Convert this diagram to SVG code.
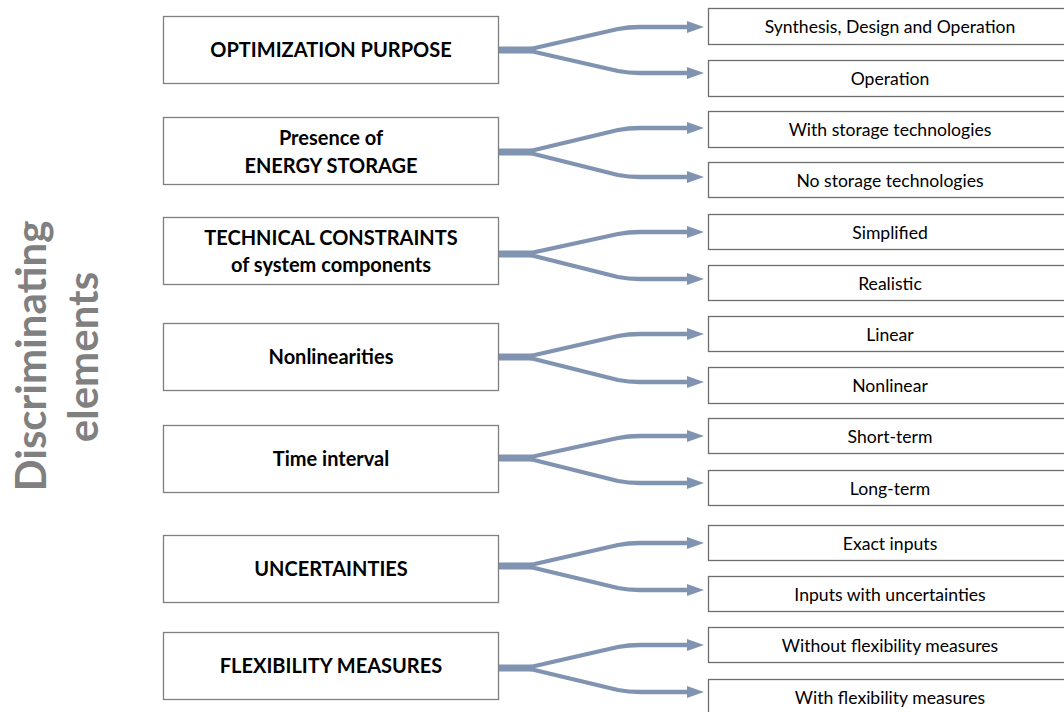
<svg xmlns="http://www.w3.org/2000/svg" width="1064" height="712" viewBox="0 0 1064 712">
<defs>
<marker id="arr" markerUnits="userSpaceOnUse" markerWidth="17" markerHeight="12" viewBox="0 0 17 12" refX="1" refY="6" orient="auto">
<path d="M0,0 L17,6 L0,12 z" fill="#8094b2"/>
</marker>
</defs>
<style>
.lb{fill:#fff;stroke:#7f7f7f;stroke-width:1.3}
.rb{fill:#fff;stroke:#6e6e6e;stroke-width:1.3}
.lt{font-family:Lato,"Liberation Sans",sans-serif;font-weight:bold;font-size:20px;fill:#000;text-anchor:middle}
.rt{font-family:Lato,"Liberation Sans",sans-serif;font-size:17.6px;fill:#000;text-anchor:middle}
.side{font-family:Lato,"Liberation Sans",sans-serif;font-weight:bold;font-size:42px;fill:#808080;text-anchor:middle}
.trunk{fill:none;stroke:#8094b2;stroke-width:7}
.br{fill:none;stroke:#8094b2;stroke-width:4.3;stroke-linejoin:round;marker-end:url(#arr)}
</style>
<rect width="1064" height="712" fill="#fff"/>
<g id="side-label">
<text class="side" transform="translate(46,356) rotate(-90)">Discriminating</text>
<text class="side" transform="translate(98,357) rotate(-90)">elements</text>
</g>
<g id="connectors">
<path class="trunk" d="M498,50 H532"/>
<path class="br" d="M526,50 L618,29 Q628,27 640,27 H688"/>
<path class="br" d="M526,50 L618,71 Q628,73 640,73 H688"/>
<path class="trunk" d="M498,152 H532"/>
<path class="br" d="M526,152 L618,130 Q628,128 640,128 H688"/>
<path class="br" d="M526,152 L618,175 Q628,177 640,177 H688"/>
<path class="trunk" d="M498,254 H532"/>
<path class="br" d="M526,254 L618,234 Q628,232 640,232 H688"/>
<path class="br" d="M526,254 L618,277 Q628,279 640,279 H688"/>
<path class="trunk" d="M498,357 H532"/>
<path class="br" d="M526,357 L618,336 Q628,334 640,334 H688"/>
<path class="br" d="M526,357 L618,380 Q628,382 640,382 H688"/>
<path class="trunk" d="M498,458 H532"/>
<path class="br" d="M526,458 L618,438 Q628,436 640,436 H688"/>
<path class="br" d="M526,458 L618,481 Q628,483 640,483 H688"/>
<path class="trunk" d="M498,566 H532"/>
<path class="br" d="M526,566 L618,545 Q628,543 640,543 H688"/>
<path class="br" d="M526,566 L618,588 Q628,590 640,590 H688"/>
<path class="trunk" d="M498,668 H532"/>
<path class="br" d="M526,668 L618,647 Q628,645 640,645 H688"/>
<path class="br" d="M526,668 L618,690 Q628,692 640,692 H688"/>
</g>
<g id="n-purpose"><rect class="lb" x="163.5" y="16.5" width="335" height="67"/><text class="lt" x="331" y="57">OPTIMIZATION PURPOSE</text></g>
<g id="n-storage"><rect class="lb" x="163.5" y="117.5" width="335" height="67"/><text class="lt" x="331" y="145">Presence of</text><text class="lt" x="331" y="173">ENERGY STORAGE</text></g>
<g id="n-technical"><rect class="lb" x="163.5" y="217.5" width="335" height="67"/><text class="lt" x="331" y="245">TECHNICAL CONSTRAINTS</text><text class="lt" x="331" y="272">of system components</text></g>
<g id="n-nonlin"><rect class="lb" x="163.5" y="323.5" width="335" height="67"/><text class="lt" x="331" y="364">Nonlinearities</text></g>
<g id="n-time"><rect class="lb" x="163.5" y="425.5" width="335" height="67"/><text class="lt" x="331" y="466">Time interval</text></g>
<g id="n-uncert"><rect class="lb" x="163.5" y="535.5" width="335" height="67"/><text class="lt" x="331" y="576">UNCERTAINTIES</text></g>
<g id="n-flex"><rect class="lb" x="163.5" y="632.5" width="335" height="67"/><text class="lt" x="331" y="673">FLEXIBILITY MEASURES</text></g>
<g id="r-sdo"><rect class="rb" x="708.5" y="8.5" width="364" height="36"/><text class="rt" x="890" y="33">Synthesis, Design and Operation</text></g>
<g id="r-op"><rect class="rb" x="708.5" y="60.5" width="364" height="36"/><text class="rt" x="890" y="85">Operation</text></g>
<g id="r-with-st"><rect class="rb" x="708.5" y="111.5" width="364" height="36"/><text class="rt" x="890" y="136">With storage technologies</text></g>
<g id="r-no-st"><rect class="rb" x="708.5" y="162.5" width="364" height="35"/><text class="rt" x="890" y="187">No storage technologies</text></g>
<g id="r-simp"><rect class="rb" x="708.5" y="214.5" width="364" height="35"/><text class="rt" x="890" y="239">Simplified</text></g>
<g id="r-real"><rect class="rb" x="708.5" y="265.5" width="364" height="35"/><text class="rt" x="890" y="290">Realistic</text></g>
<g id="r-lin"><rect class="rb" x="708.5" y="316.5" width="364" height="35"/><text class="rt" x="890" y="341">Linear</text></g>
<g id="r-nonlin"><rect class="rb" x="708.5" y="367.5" width="364" height="36"/><text class="rt" x="890" y="392">Nonlinear</text></g>
<g id="r-short"><rect class="rb" x="708.5" y="418.5" width="364" height="35"/><text class="rt" x="890" y="443">Short-term</text></g>
<g id="r-long"><rect class="rb" x="708.5" y="470.5" width="364" height="35"/><text class="rt" x="890" y="495">Long-term</text></g>
<g id="r-exact"><rect class="rb" x="708.5" y="525.5" width="364" height="35"/><text class="rt" x="890" y="550">Exact inputs</text></g>
<g id="r-unc"><rect class="rb" x="708.5" y="576.5" width="364" height="35"/><text class="rt" x="890" y="601">Inputs with uncertainties</text></g>
<g id="r-noflex"><rect class="rb" x="708.5" y="627.5" width="364" height="35"/><text class="rt" x="890" y="652">Without flexibility measures</text></g>
<g id="r-flex"><rect class="rb" x="708.5" y="679.5" width="364" height="36"/><text class="rt" x="890" y="704">With flexibility measures</text></g>
</svg>
